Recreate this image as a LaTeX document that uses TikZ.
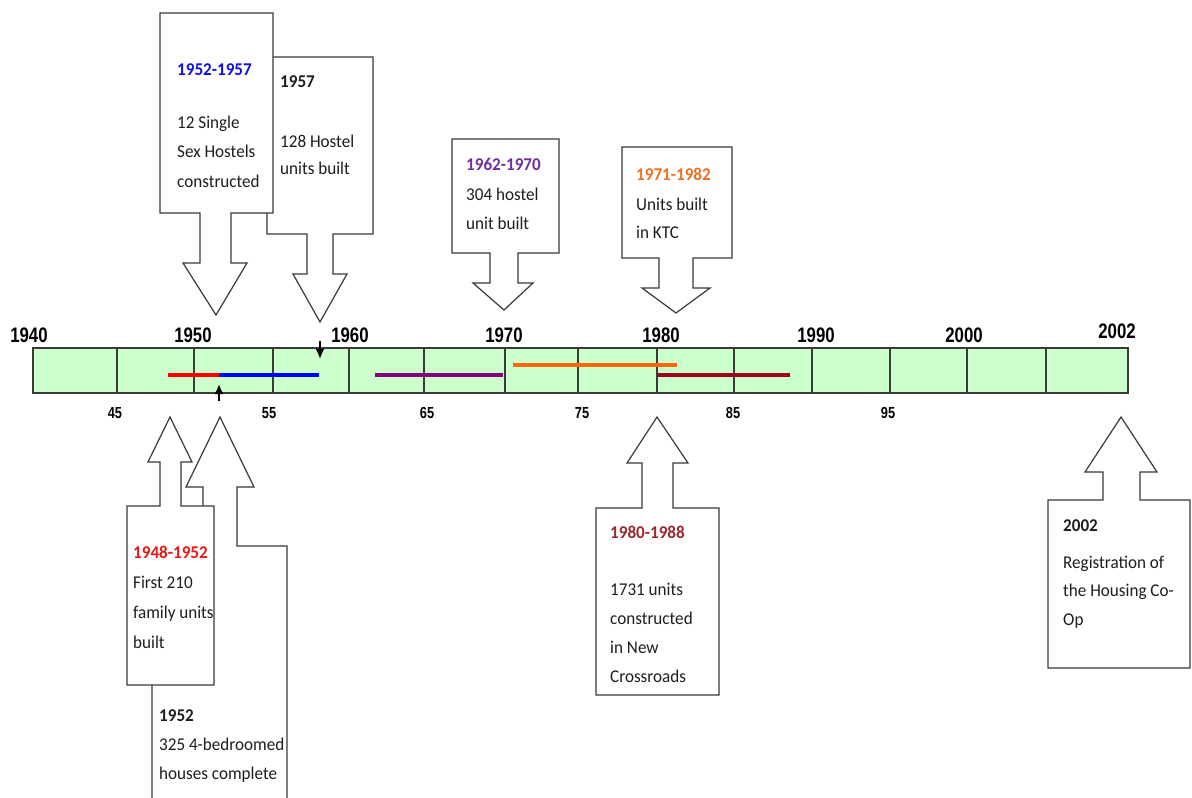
\documentclass[tikz,border=0pt]{standalone}
\usepackage{fontspec}
\setmainfont{Carlito}[FakeStretch=0.95]
\newfontfamily\yearfont[FakeStretch=0.8]{Liberation Sans Bold}
\usetikzlibrary{arrows.meta}
\definecolor{barfill}{HTML}{CCFFCC}
\definecolor{outline}{HTML}{3A3A3A}
\definecolor{txtgray}{HTML}{1E1E1E}
\definecolor{cblue}{HTML}{1010E0}
\definecolor{cpurple}{HTML}{7030A0}
\definecolor{corange}{HTML}{EE7020}
\definecolor{cdarkred}{HTML}{9A2A30}
\definecolor{cred}{HTML}{E81818}
\definecolor{lred}{HTML}{FF0000}
\definecolor{lblue}{HTML}{0000FF}
\definecolor{lpurple}{HTML}{800080}
\definecolor{lorange}{HTML}{FF6600}
\definecolor{ldarkred}{HTML}{A00020}
\tikzset{
  callout/.style={draw=outline, fill=white, line width=1.2pt, line join=miter},
  barbox/.style={draw=outline, fill=barfill, line width=1.2pt},
  divider/.style={draw=outline, line width=1.1pt},
  period/.style={line width=4.5pt},
  yearlbl/.style={font=\yearfont\fontsize{21}{21}\selectfont, anchor=base, inner sep=0pt},
  ticklbl/.style={font=\yearfont\fontsize{16}{16}\selectfont, anchor=base, inner sep=0pt},
  headtxt/.style={font=\bfseries\fontsize{18}{18}\selectfont, anchor=base west, inner sep=0pt},
  bodytxt/.style={font=\fontsize{18}{29.5}\selectfont, anchor=base west, inner sep=0pt, align=left, text=txtgray},
  marker/.style={-{Latex[length=10pt,width=9pt]}, line width=1.8pt, black}
}
\begin{document}
\begin{tikzpicture}[x=1pt,y=-1pt]
\useasboundingbox (0,0) rectangle (1192,798);
\fill[white] (0,0) rectangle (1192,798);
\clip (0,0) rectangle (1192,798);

% ---- timeline bar ----
\draw[barbox] (33,348) rectangle (1128,393);
\foreach \xx in {117,194,273,349,424,505,578,657,734,812,890,967,1046}
  \draw[divider] (\xx,348) -- (\xx,393);

% period lines
\draw[period, lred] (168,375) -- (219,375);
\draw[period, lblue] (219,375) -- (319,375);
\draw[period, lpurple] (375,375) -- (503,375);
\draw[period, lorange] (513,365) -- (677,365);
\draw[period, ldarkred] (658,375) -- (790,375);

% small markers
\coordinate (m1s) at (320,341);
\coordinate (m1e) at (320,359);
\draw[marker] (m1s) -- (m1e);
\coordinate (m2s) at (219,401);
\coordinate (m2e) at (219,384);
\draw[marker] (m2s) -- (m2e);

% decade labels
\node[yearlbl] (y1940) at (29,342) {1940};
\node[yearlbl] (y1950) at (193,342) {1950};
\node[yearlbl] (y1960) at (350,342) {1960};
\node[yearlbl] (y1970) at (504,342) {1970};
\node[yearlbl] (y1980) at (661,342) {1980};
\node[yearlbl] (y1990) at (816,342) {1990};
\node[yearlbl] (y2000) at (964,342) {2000};
\node[yearlbl] (y2002) at (1117,338) {2002};

% half-decade labels
\node[ticklbl] (t45) at (115,418) {45};
\node[ticklbl] (t55) at (269,418) {55};
\node[ticklbl] (t65) at (427,418) {65};
\node[ticklbl] (t75) at (582,418) {75};
\node[ticklbl] (t85) at (733,418) {85};
\node[ticklbl] (t95) at (888,418) {95};

% ---- down callouts (above the bar) ----
% C2: 1957
\draw[callout] (267,57) -- (373,57) -- (373,234) -- (333,234) -- (333,274) -- (347,274)
  -- (320,322) -- (293,274) -- (307,274) -- (307,234) -- (267,234) -- cycle;
% C1: 1952-1957
\draw[callout] (160,13) -- (273,13) -- (273,213) -- (231,213) -- (231,263) -- (247,263)
  -- (216,315) -- (183,263) -- (200,263) -- (200,213) -- (160,213) -- cycle;
% C3: 1962-1970
\draw[callout] (452,139) -- (559,139) -- (559,253) -- (518,253) -- (518,283) -- (533,283)
  -- (504,310) -- (473,283) -- (490,283) -- (490,253) -- (452,253) -- cycle;
% C4: 1971-1982
\draw[callout] (622,147) -- (732,147) -- (732,258) -- (693,258) -- (693,288) -- (710,288)
  -- (676,313) -- (642,288) -- (659,288) -- (659,258) -- (622,258) -- cycle;

% ---- up callouts (below the bar) ----
% C6: 1952
\draw[callout] (152,812) -- (152,546) -- (203,546) -- (203,487) -- (186,487) -- (220,417)
  -- (254,487) -- (237,487) -- (237,546) -- (287,546) -- (287,812) -- cycle;
% C5: 1948-1952
\draw[callout] (127,685) -- (127,506) -- (160,506) -- (160,462) -- (148,462) -- (170,417)
  -- (192,462) -- (181,462) -- (181,506) -- (214,506) -- (214,685) -- cycle;
% C7: 1980-1988
\draw[callout] (596,695) -- (596,508) -- (642,508) -- (642,463) -- (627,463) -- (657,417)
  -- (688,463) -- (673,463) -- (673,508) -- (719,508) -- (719,695) -- cycle;
% C8: 2002
\draw[callout] (1048,668) -- (1048,500) -- (1103,500) -- (1103,472) -- (1085,472) -- (1121,417)
  -- (1157,472) -- (1140,472) -- (1140,500) -- (1190,500) -- (1190,668) -- cycle;

% ---- callout texts (body nodes anchored at the baseline of their last line) ----
\node[headtxt, text=cblue] (h1) at (177,75) {1952-1957};
\node[bodytxt] (b1) at (177,187) {12 Single\\Sex Hostels\\constructed};

\node[headtxt, text=txtgray] (h2) at (280,87) {1957};
\node[bodytxt, font=\fontsize{18}{27.5}\selectfont] (b2) at (280,174.5) {128 Hostel\\units built};

\node[headtxt, text=cpurple] (h3) at (466,170) {1962-1970};
\node[bodytxt] (b3) at (466,229.5) {304 hostel\\unit built};

\node[headtxt, text=corange] (h4) at (636,180) {1971-1982};
\node[bodytxt, font=\fontsize{18}{28.5}\selectfont] (b4) at (636,238.5) {Units built\\in KTC};

\node[headtxt, text=cred] (h5) at (133,558) {1948-1952};
\node[bodytxt, font=\fontsize{18}{30}\selectfont] (b5) at (133,648) {First 210\\family units\\built};

\node[headtxt, text=txtgray] (h6) at (159,721) {1952};
\node[bodytxt] (b6) at (159,779.5) {325 4-bedroomed\\houses complete};

\node[headtxt, text=cdarkred] (h7) at (610,538) {1980-1988};
\node[bodytxt, font=\fontsize{18}{29}\selectfont] (b7) at (610,682) {1731 units\\constructed\\in New\\Crossroads};

\node[headtxt, text=txtgray] (h8) at (1063,531) {2002};
\node[bodytxt, font=\fontsize{18}{28.5}\selectfont] (b8) at (1063,625) {Registration of\\the Housing Co-\\Op};
\end{tikzpicture}
\end{document}
